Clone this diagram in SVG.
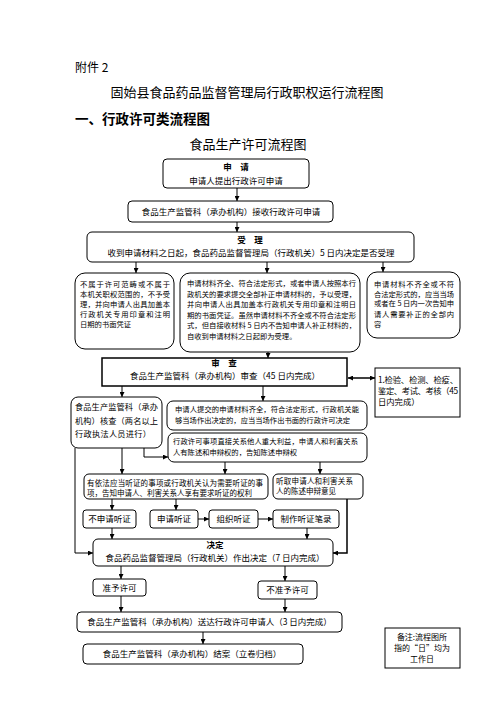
<svg xmlns="http://www.w3.org/2000/svg" width="496" height="702" viewBox="0 0 496 702">
<defs>
<marker id="ah" viewBox="0 0 6 6" refX="6" refY="3" markerWidth="5" markerHeight="5" orient="auto-start-reverse" markerUnits="userSpaceOnUse">
<path d="M0,0 L6,3 L0,6 z" fill="#000"/>
</marker>
<style>
text{font-family:"Noto Sans CJK SC","Noto Sans",sans-serif;fill:#000}
.b{fill:#fff;stroke:#000;stroke-width:1}
.c{fill:none;stroke:#000;stroke-width:1;marker-end:url(#ah)}
.m{text-anchor:middle}
.h{font-weight:bold;font-size:8.5px}
.s8{font-size:8.5px}
.s7{font-size:7.3px}
</style>
</defs>
<rect width="496" height="702" fill="#fff"/>
<text x="75" y="72" font-size="12">附件 2</text>
<text x="247" y="97" font-size="13" class="m">固始县食品药品监督管理局行政职权运行流程图</text>
<text x="75" y="124" font-size="13.5" font-weight="bold">一、行政许可类流程图</text>
<text x="248" y="149" font-size="13" class="m">食品生产许可流程图</text>

<g id="connectors">
<line class="c" x1="237" y1="188" x2="237" y2="201"/>
<line class="c" x1="237" y1="222" x2="237" y2="232"/>
<line class="c" x1="136" y1="262" x2="136" y2="273"/>
<line class="c" x1="267" y1="262" x2="267" y2="273"/>
<line class="c" x1="383" y1="262" x2="383" y2="272"/>
<line class="c" x1="268" y1="352" x2="268" y2="358"/>
<line class="c" x1="348" y1="378" x2="375" y2="378" style="stroke-width:1.5;marker-start:url(#ah)"/>
<line class="c" x1="122" y1="386" x2="122" y2="397"/>
<line class="c" x1="263" y1="386" x2="263" y2="401"/>
<path class="c" d="M144,448 V457 H168"/>
<path class="c" d="M75,448 V553 H93"/>
<line class="c" x1="122" y1="448" x2="122" y2="474"/>
<line class="c" x1="225" y1="462" x2="225" y2="474"/>
<line class="c" x1="320" y1="462" x2="320" y2="474"/>
<line class="c" x1="112" y1="499" x2="112" y2="510"/>
<line class="c" x1="176" y1="499" x2="176" y2="510"/>
<path class="c" d="M347,499 V553 H333" style="stroke-width:1.5"/>
<line class="c" x1="198" y1="519" x2="209" y2="519"/>
<line class="c" x1="258" y1="519" x2="273" y2="519"/>
<line class="c" x1="112" y1="528" x2="112" y2="539"/>
<line class="c" x1="307" y1="528" x2="307" y2="539"/>
<line class="c" x1="121" y1="566" x2="121" y2="579"/>
<line class="c" x1="285" y1="566" x2="285" y2="581"/>
<line class="c" x1="121" y1="596" x2="121" y2="612"/>
<line class="c" x1="285" y1="599" x2="285" y2="612"/>
<line class="c" x1="203" y1="632" x2="203" y2="644"/>
</g>

<g id="n1">
<rect class="b" x="163" y="159" width="146" height="29" rx="4"/>
<text x="236" y="170" class="m h">申　请</text>
<text x="236" y="184" class="m s8">申请人提出行政许可申请</text>
</g>
<g id="n2">
<rect class="b" x="128" y="201" width="205" height="21" rx="4"/>
<text x="231" y="215" class="m s8">食品生产监管科（承办机构）接收行政许可申请</text>
</g>
<g id="n3">
<rect class="b" x="87" y="232" width="327" height="30" rx="5"/>
<text x="250" y="243" class="m h">受　理</text>
<text x="251" y="256" class="m s8">收到申请材料之日起，食品药品监督管理局（行政机关）5 日内决定是否受理</text>
</g>
<g id="n4">
<rect class="b" x="75" y="273" width="99" height="76" rx="10"/>
<text class="s7" x="80" y="287" textLength="90" lengthAdjust="spacing">不属于许可范畴或不属于</text>
<text class="s7" x="80" y="297" textLength="90" lengthAdjust="spacing">本机关职权范围的，不予受</text>
<text class="s7" x="80" y="307" textLength="90" lengthAdjust="spacing">理，并向申请人出具加盖本</text>
<text class="s7" x="80" y="317" textLength="90" lengthAdjust="spacing">行政机关专用印章和注明</text>
<text class="s7" x="80" y="327">日期的书面凭证</text>
</g>
<g id="n5">
<rect class="b" x="180" y="273" width="180" height="79" rx="10"/>
<text class="s7" x="187" y="286" textLength="169" lengthAdjust="spacing">申请材料齐全、符合法定形式，或者申请人按照本行</text>
<text class="s7" x="187" y="297" textLength="169" lengthAdjust="spacing">政机关的要求提交全部补正申请材料的，予以受理，</text>
<text class="s7" x="187" y="307" textLength="169" lengthAdjust="spacing">并向申请人出具加盖本行政机关专用印章和注明日</text>
<text class="s7" x="187" y="318" textLength="169" lengthAdjust="spacing">期的书面凭证。虽然申请材料不齐全或不符合法定形</text>
<text class="s7" x="187" y="328" textLength="169" lengthAdjust="spacing">式，但自接收材料 5 日内不告知申请人补正材料的，</text>
<text class="s7" x="187" y="339">自收到申请材料之日起即为受理。</text>
</g>
<g id="n6">
<rect class="b" x="367" y="272" width="93" height="66" rx="10"/>
<text class="s7" x="374" y="287" textLength="80" lengthAdjust="spacing">申请材料不齐全或不符</text>
<text class="s7" x="374" y="297" textLength="80" lengthAdjust="spacing">合法定形式的，应当当场</text>
<text class="s7" x="374" y="306" textLength="80" lengthAdjust="spacing">或者在 5 日内一次告知申</text>
<text class="s7" x="374" y="317" textLength="80" lengthAdjust="spacing">请人需要补正的全部内</text>
<text class="s7" x="374" y="327">容</text>
</g>
<g id="n7">
<rect class="b" x="102" y="358" width="245" height="28" style="stroke-width:1.5"/>
<text x="224" y="366" class="m h">审　查</text>
<text x="225" y="379" class="m s8">食品生产监管科（承办机构）审查（45 日内完成）</text>
</g>
<g id="n8">
<rect class="b" x="375" y="368" width="85" height="49"/>
<text x="378" y="383" font-size="8.3" textLength="80" lengthAdjust="spacing">1.检验、检测、检疫、</text>
<text x="378" y="394" font-size="8.3" textLength="80" lengthAdjust="spacing">鉴定、考试、考核（45</text>
<text x="378" y="405" font-size="8.3">日内完成）</text>
</g>
<g id="n9">
<rect class="b" x="71" y="397" width="91" height="51" rx="7"/>
<text x="75" y="410" font-size="8.2" textLength="83" lengthAdjust="spacing">食品生产监管科（承办</text>
<text x="75" y="424" font-size="8.2" textLength="83" lengthAdjust="spacing">机构）核查（两名以上</text>
<text x="75" y="437" font-size="8.2" textLength="76" lengthAdjust="spacing">行政执法人员进行）</text>
</g>
<g id="n10">
<rect class="b" x="167" y="401" width="200" height="29" rx="6"/>
<text class="s7" x="175" y="412" textLength="184" lengthAdjust="spacing">申请人提交的申请材料齐全，符合法定形式，行政机关能</text>
<text class="s7" x="175" y="423">够当场作出决定的，应当当场作出书面的行政许可决定</text>
</g>
<g id="n11">
<rect class="b" x="168" y="433" width="199" height="29" rx="6"/>
<text class="s7" x="173" y="444" textLength="185" lengthAdjust="spacing">行政许可事项直接关系他人重大利益，申请人和利害关系</text>
<text class="s7" x="173" y="455">人有陈述和申辩权的，告知陈述申辩权</text>
</g>
<g id="n12">
<rect class="b" x="84" y="474" width="184" height="25" rx="5"/>
<text x="87" y="486" font-size="7.5" textLength="176" lengthAdjust="spacing">有依法应当听证的事项或行政机关认为需要听证的事</text>
<text x="87" y="496" font-size="7.5">项，告知申请人、利害关系人享有要求听证的权利</text>
</g>
<g id="n13">
<rect class="b" x="273" y="474" width="90" height="25" rx="5"/>
<text x="276" y="484" font-size="7.5" textLength="77" lengthAdjust="spacing">听取申请人和利害关系</text>
<text x="276" y="494" font-size="7.5">人的陈述申辩意见</text>
</g>
<g id="n14">
<rect class="b" x="83" y="510" width="53" height="18" rx="3"/>
<text x="109.5" y="522" class="m s8">不申请听证</text>
</g>
<g id="n15">
<rect class="b" x="150" y="510" width="48" height="18" rx="3"/>
<text x="174" y="522" class="m s8">申请听证</text>
</g>
<g id="n16">
<rect class="b" x="209" y="510" width="49" height="18" rx="3"/>
<text x="233.5" y="522" class="m s8">组织听证</text>
</g>
<g id="n17">
<rect class="b" x="273" y="510" width="66" height="18" rx="3"/>
<text x="306" y="522" class="m s8">制作听证笔录</text>
</g>
<g id="n18">
<rect class="b" x="93" y="539" width="240" height="27" rx="5"/>
<text x="215" y="548" class="m h">决定</text>
<text x="215" y="561" class="m s8">食品药品监督管理局（行政机关）作出决定（7 日内完成）</text>
</g>
<g id="n19">
<rect class="b" x="93" y="579" width="53" height="17" rx="3"/>
<text x="119.5" y="591" class="m s8">准予许可</text>
</g>
<g id="n20">
<rect class="b" x="258" y="581" width="59" height="18" rx="3"/>
<text x="287.5" y="593" class="m s8">不准予许可</text>
</g>
<g id="n21">
<rect class="b" x="77" y="612" width="265" height="20" rx="4"/>
<text x="209.5" y="625" class="m s8">食品生产监管科（承办机构）送达行政许可申请人（3 日内完成）</text>
</g>
<g id="n22">
<rect class="b" x="83" y="644" width="220" height="20" rx="4"/>
<text x="192" y="657" class="m s8">食品生产监管科（承办机构）结案（立卷归档）</text>
</g>
<g id="n23">
<rect class="b" x="385" y="628" width="75" height="40"/>
<text x="422" y="640" class="m" font-size="8">备注:流程图所</text>
<text x="422" y="651" class="m" font-size="8">指的“日”均为</text>
<text x="422" y="662" class="m" font-size="8">工作日</text>
</g>
</svg>
